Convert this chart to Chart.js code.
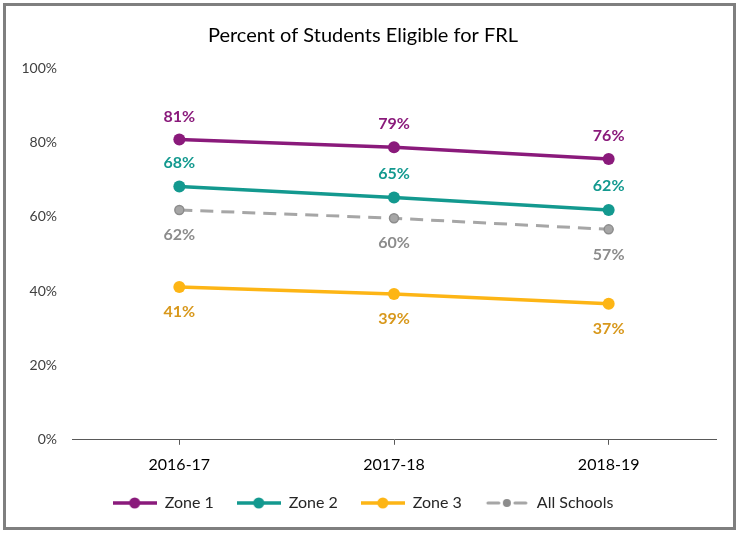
<!DOCTYPE html>
<html>
<head>
<meta charset="utf-8">
<script src="https://cdn.jsdelivr.net/npm/chart.js@4"></script>
<style>
  html, body { margin: 0; padding: 0; background: #fff; }
  #wrap { position: relative; width: 740px; height: 535px; }
</style>
</head>
<body>
<div id="wrap"><canvas id="frlChart" width="740" height="535"></canvas></div>
<script>
const years = ['2016-17', '2017-18', '2018-19'];
const zone1 = [80.8, 78.7, 75.5];
const zone2 = [68.1, 65.2, 61.8];
const zone3 = [41.1, 39.2, 36.6];
const allSchools = [61.8, 59.6, 56.6];
const yTicks = [0, 20, 40, 60, 80, 100];

const FONT = 'Lato, "Open Sans", sans-serif';

// little line+dot swatches for the legend
function swatch(color, dotColor, dashed) {
    const c = document.createElement('canvas');
    c.width = 44; c.height = 14;
    const g = c.getContext('2d');
    g.strokeStyle = color;
    g.lineWidth = dashed ? 3 : 3.5;
    g.lineCap = dashed ? 'round' : 'butt';
    g.beginPath();
    if (dashed) {
        g.moveTo(3, 7); g.lineTo(14, 7);
        g.moveTo(30, 7); g.lineTo(41, 7);
    } else {
        g.moveTo(0, 7); g.lineTo(44, 7);
    }
    g.stroke();
    g.fillStyle = dotColor;
    g.beginPath();
    g.arc(22, 7, dashed ? 4 : 5.5, 0, Math.PI * 2);
    g.fill();
    return c;
}

const frame = {
    id: 'frame',
    beforeDraw(chart) {
        const ctx = chart.ctx;
        ctx.save();
        ctx.fillStyle = '#fff';
        ctx.fillRect(0, 0, chart.width, chart.height);
        ctx.strokeStyle = '#7f7f7f';
        ctx.lineWidth = 3;
        ctx.strokeRect(4.5, 4.5, 730, 524);
        ctx.restore();
    }
};

const valueLabels = {
    id: 'valueLabels',
    afterDatasetsDraw(chart) {
        const ctx = chart.ctx;
        ctx.save();
        ctx.font = 'bold 16px ' + FONT;
        ctx.textAlign = 'center';
        ctx.textBaseline = 'middle';
        chart.data.datasets.forEach((ds, i) => {
            const meta = chart.getDatasetMeta(i);
            ctx.fillStyle = ds.labelColor;
            meta.data.forEach((pt, j) => {
                ctx.fillText(Math.round(ds.data[j]) + '%', pt.x, pt.y + ds.labelOffset);
            });
        });
        ctx.restore();
    }
};

new Chart(document.getElementById('frlChart'), {
    type: 'line',
    data: {
        labels: years,
        datasets: [
            {
                label: 'Zone 1', data: zone1,
                borderColor: '#8a1a7b', backgroundColor: '#8a1a7b',
                borderWidth: 3.5, pointRadius: 6, pointBorderWidth: 0,
                legendSwatch: swatch('#8a1a7b', '#8a1a7b', false),
                labelColor: '#8a1a7b', labelOffset: -23
            },
            {
                label: 'Zone 2', data: zone2,
                borderColor: '#13998f', backgroundColor: '#13998f',
                borderWidth: 3.5, pointRadius: 6, pointBorderWidth: 0,
                legendSwatch: swatch('#13998f', '#13998f', false),
                labelColor: '#13998f', labelOffset: -24
            },
            {
                label: 'Zone 3', data: zone3,
                borderColor: '#fdb515', backgroundColor: '#fdb515',
                borderWidth: 3.5, pointRadius: 6, pointBorderWidth: 0,
                legendSwatch: swatch('#fdb515', '#fdb515', false),
                labelColor: '#d8981c', labelOffset: 25
            },
            {
                label: 'All Schools', data: allSchools,
                borderColor: '#a6a6a6', backgroundColor: '#a6a6a6',
                borderWidth: 3, borderDash: [13, 8],
                pointRadius: 4.5, pointBorderWidth: 1.5, pointBorderColor: '#8c8c8c',
                legendSwatch: swatch('#a6a6a6', '#8c8c8c', true),
                labelColor: '#8c8c8c', labelOffset: 25
            }
        ]
    },
    options: {
        responsive: false,
        animation: false,
        layout: { padding: { left: 10, right: 24, top: 8, bottom: 14 } },
        elements: { line: { tension: 0 }, point: { pointStyle: 'circle' } },
        plugins: {
            title: {
                display: true,
                text: 'Percent of Students Eligible for FRL',
                color: '#000',
                font: { family: FONT, size: 20, weight: 'normal' },
                padding: { top: 16, bottom: 20 }
            },
            legend: {
                position: 'bottom',
                labels: {
                    usePointStyle: true,
                    pointStyleWidth: 44,
                    color: '#262626',
                    font: { family: FONT, size: 16 },
                    padding: 23,
                    generateLabels(chart) {
                        return chart.data.datasets.map((ds, i) => ({
                            text: ds.label,
                            pointStyle: ds.legendSwatch,
                            fontColor: '#262626',
                            strokeStyle: ds.borderColor,
                            fillStyle: ds.backgroundColor,
                            lineWidth: 0,
                            hidden: false,
                            datasetIndex: i
                        }));
                    }
                }
            },
            tooltip: { enabled: false }
        },
        scales: {
            x: {
                offset: true,
                afterFit(scale) { scale.height -= 12; },
                grid: {
                    display: true, drawOnChartArea: false, drawTicks: true,
                    tickLength: 5, offset: false, color: '#595959'
                },
                border: { display: true, color: '#595959', width: 1 },
                ticks: { color: '#000', font: { family: FONT, size: 16 }, padding: 10 }
            },
            y: {
                min: 0, max: 100,
                afterBuildTicks(scale) { scale.ticks = yTicks.map(v => ({ value: v })); },
                afterFit(scale) { scale.width = 62; },
                grid: { display: false },
                border: { display: false },
                ticks: {
                    color: '#404040',
                    font: { family: FONT, size: 14 },
                    padding: 7,
                    callback: v => v + '%'
                }
            }
        }
    },
    plugins: [frame, valueLabels]
});
</script>
</body>
</html>
